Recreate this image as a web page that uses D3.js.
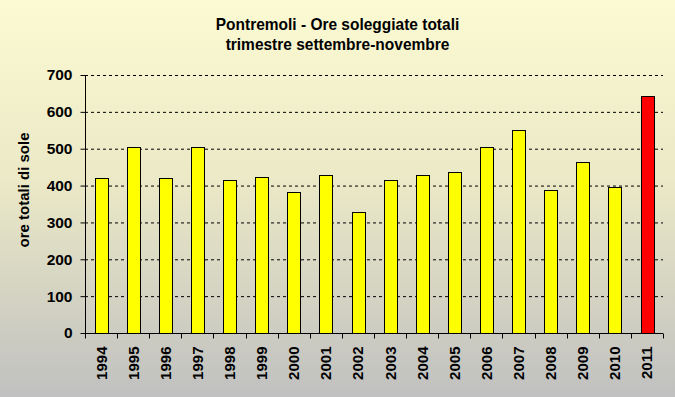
<!DOCTYPE html>
<html><head><meta charset="utf-8">
<script src="https://cdn.jsdelivr.net/npm/d3@7"></script>
<style>html,body{margin:0;padding:0;overflow:hidden;}svg{display:block;}</style>
</head><body>
<script>
const years = ["1994","1995","1996","1997","1998","1999","2000","2001","2002","2003","2004","2005","2006","2007","2008","2009","2010","2011"];
const hours = [420,504,420,504,414,422,382,428,327,414,428,436,506,550,387,463,396,643];
const yTicks = [0,100,200,300,400,500,600,700];
const highlightYear = "2011";
const titleLines = ["Pontremoli - Ore soleggiate totali","trimestre settembre-novembre"];
const yLabel = "ore totali di sole";

const W = 675, H = 397;
const m = {left:85, right:12, top:75, bottom:64};
const svg = d3.select("body").append("svg").attr("width",W).attr("height",H);
const defs = svg.append("defs");
const g = defs.append("linearGradient").attr("id","bg").attr("x1",0).attr("y1",0).attr("x2",0).attr("y2",1);
g.append("stop").attr("offset","0%").attr("stop-color","#fcfad2");
g.append("stop").attr("offset","45%").attr("stop-color","#ebe9c6");
g.append("stop").attr("offset","100%").attr("stop-color","#c0c0c0");
svg.append("rect").attr("width",W).attr("height",H).attr("fill","url(#bg)");

const font = "'Liberation Sans', Arial, sans-serif";
const x = d3.scaleBand().domain(years).range([m.left, W-m.right]).paddingInner(0.6).paddingOuter(0.3);
const y = d3.scaleLinear().domain([0,700]).range([H-m.bottom, m.top]);

// title
svg.append("g").selectAll("text").data(titleLines).join("text")
  .attr("transform",(d,i)=>`translate(${W/2},${30+i*20}) scale(1,1.12)`).attr("text-anchor","middle")
  .attr("font-family",font).attr("font-weight","bold").attr("font-size",15.5).attr("fill","#000").text(d=>d);

// gridlines
svg.append("g").selectAll("line").data(yTicks.filter(d=>d>0)).join("line")
  .attr("x1",m.left).attr("x2",W-m.right).attr("y1",d=>y(d)+0.5).attr("y2",d=>y(d)+0.5)
  .attr("stroke","#000").attr("stroke-dasharray","3,3").attr("stroke-width",1);

// bars
svg.append("g").selectAll("rect").data(years).join("rect")
  .attr("x",d=>Math.round(x(d))+0.5).attr("width",Math.round(x.bandwidth()))
  .attr("y",(d,i)=>Math.round(y(hours[i]))+0.5).attr("height",(d,i)=>Math.round(y(0))-Math.round(y(hours[i])))
  .attr("fill",d=>d===highlightYear?"#ff0000":"#ffff00").attr("stroke","#000").attr("stroke-width",1);

// y axis
const ya = svg.append("g").attr("transform",`translate(${m.left+0.5},0)`)
  .call(d3.axisLeft(y).tickValues(yTicks).tickSize(5).tickPadding(8).tickFormat(d3.format("d")));
ya.select(".domain").attr("stroke","#000").attr("d",`M0,${y(700)}V${y(0)}`);
ya.selectAll("line").attr("stroke","#000");
ya.selectAll("text").attr("font-family",font).attr("font-weight","bold").attr("font-size",15.5).attr("fill","#000");

// x axis
const xa = svg.append("g").attr("transform",`translate(0,${y(0)+0.5})`);
xa.append("line").attr("x1",m.left).attr("x2",W-m.right).attr("stroke","#000");
const bounds = d3.range(years.length+1).map(i=>m.left + i*(W-m.right-m.left)/years.length);
xa.selectAll("line.t").data(bounds).join("line").attr("class","t")
  .attr("x1",d=>Math.round(d)+0.5).attr("x2",d=>Math.round(d)+0.5).attr("y1",0).attr("y2",5).attr("stroke","#000");
xa.selectAll("text").data(years).join("text")
  .attr("transform",d=>`translate(${x(d)+x.bandwidth()/2+5.5},13) rotate(-90)`)
  .attr("text-anchor","end").attr("font-family",font).attr("font-weight","bold").attr("font-size",15).attr("fill","#000").text(d=>d);

// y label
svg.append("text").attr("transform",`translate(29,190) rotate(-90)`)
  .attr("text-anchor","middle").attr("font-family",font).attr("font-weight","bold").attr("font-size",15).attr("fill","#000").text(yLabel);
</script>
</body></html>
